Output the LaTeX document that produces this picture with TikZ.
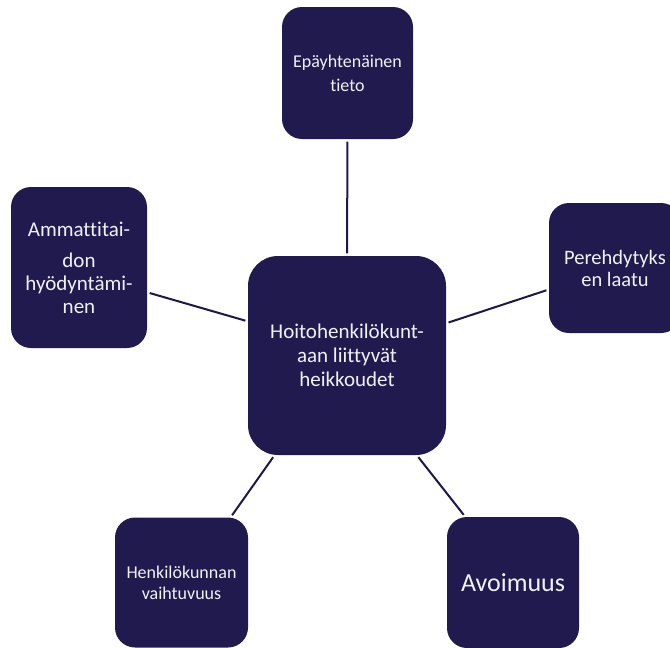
\documentclass[tikz,border=0pt]{standalone}
\usepackage{fontspec}
\setmainfont[Ligatures=NoCommon]{Carlito}
\definecolor{navy}{HTML}{211A4E}
\definecolor{linknavy}{HTML}{1E1747}
\definecolor{boxtext}{HTML}{F2F0F7}
\tikzset{
  box/.style={fill=navy, draw=none, inner sep=0pt, align=center,
    text=boxtext, rounded corners=20pt},
  hubbox/.style={box, rounded corners=30pt},
  link/.style={draw=linknavy, line width=2pt, shorten <=2.5pt, shorten >=2.5pt}
}
\begin{document}
\begin{tikzpicture}[x=1pt,y=-1pt]
  \useasboundingbox (0,0) rectangle (670,648);
  \begin{scope}
    \clip (0,0) rectangle (670,648);
    % central node
    \node[hubbox, minimum width=198pt, minimum height=199pt,
      font=\fontsize{21}{24}\selectfont] (hub) at (347,355.5)
      {Hoitohenkilökunt-\\aan liittyvät\\heikkoudet};
    % surrounding nodes
    \node[box, minimum width=131pt, minimum height=132pt,
      font=\fontsize{18}{24}\selectfont] (top) at (347.5,73)
      {Epäyhtenäinen\\tieto};
    \node[box, minimum width=132pt, minimum height=130pt,
      font=\fontsize{20.5}{22}\selectfont] (right) at (615,268)
      {Perehdytyks\\en laatu};
    \node[box, minimum width=136pt, minimum height=161pt,
      font=\fontsize{21}{23}\selectfont] (left) at (79,267.5)
      {Ammattitai-\\[8pt]don\\hyödyntämi-\\nen};
    \node[box, minimum width=133pt, minimum height=130pt,
      font=\fontsize{18}{21}\selectfont] (bl) at (181.5,582.5)
      {Henkilökunnan\\vaihtuvuus};
    \node[box, minimum width=132pt, minimum height=131pt,
      font=\fontsize{26}{30}\selectfont] (br) at (513,582.5)
      {Avoimuus};
    % connectors
    \draw[link] (top.south) -- (hub.north);
    \draw[link] (hub.161.8) -- (left.340.5);
    \draw[link] (hub.18.2) -- (right.198);
    \draw[link] (hub.234.4) -- (bl.53.1);
    \draw[link] (hub.305.2) -- (br.126.8);
  \end{scope}
\end{tikzpicture}
\end{document}
